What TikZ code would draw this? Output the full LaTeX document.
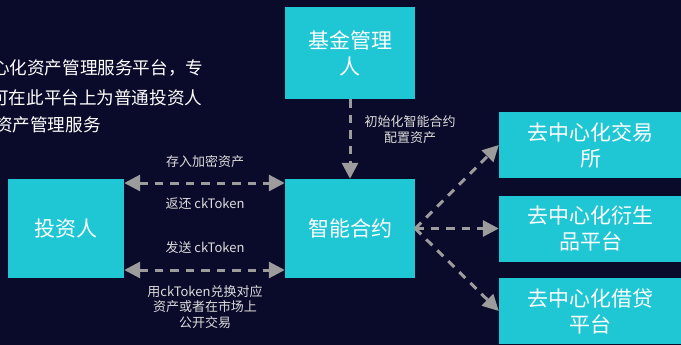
\documentclass[tikz,border=0pt]{standalone}
\usepackage{fontspec}
\setmainfont{Noto Sans CJK SC}
\usetikzlibrary{arrows.meta}
\definecolor{bgnavy}{HTML}{0A0A2A}
\definecolor{boxcyan}{HTML}{1FC6D4}
\definecolor{linegray}{HTML}{9C9C9C}
\definecolor{labelgray}{HTML}{DCDCDC}

\begin{document}
\begin{tikzpicture}[x=1pt, y=-1pt,
    box/.style={rectangle, fill=boxcyan, text=white, align=center, inner sep=0pt,
      font=\fontsize{21}{26}\selectfont},
    flow/.style={draw=linegray, line width=3pt, dash pattern=on 8.5pt off 7pt,
      -{Triangle[length=16pt,width=16pt]}},
    lbl/.style={text=labelgray, align=center, inner sep=0pt,
      font=\fontsize{13}{15.5}\selectfont},
    intro/.style={text=white, anchor=west, inner sep=0pt,
      font=\fontsize{17.6}{20}\selectfont}]
        % Background
        \fill[bgnavy] (0,0) rectangle (681,345);
        \useasboundingbox (0,0) rectangle (681,345);
        \clip (0,0) rectangle (681,345);

        % Intro text, cut at the left edge
        \node[intro] (intro1) at (-8,68) {心化资产管理服务平台，专};
        \node[intro] (intro2) at (-9,98) {可在此平台上为普通投资人};
        \node[intro] (intro3) at (-5,125) {资产管理服务};

        % Boxes
        \node[box, minimum width=130, minimum height=92] (manager) at (350,53) {基金管理\\人};
        \node[box, minimum width=130, minimum height=99] (contract) at (350,228.5) {智能合约};
        \node[box, minimum width=116, minimum height=99] (investor) at (66,228.5) {投资人};
        \node[box, minimum width=183, minimum height=66] (exchange) at (590.5,145) {去中心化交易\\所};
        \node[box, minimum width=183, minimum height=66] (deriv) at (590.5,228.5) {去中心化衍生\\品平台};
        \node[box, minimum width=183, minimum height=66] (lending) at (590.5,311) {去中心化借贷\\平台};

        % Connectors
        \draw[flow] (manager.south) -- (contract.north);
        \draw[flow, {Triangle[length=16pt,width=16pt]}-{Triangle[length=16pt,width=16pt]}]
            ([yshift=45.5pt]investor.east) -- ([yshift=45.5pt]contract.west);
        \draw[flow, {Triangle[length=16pt,width=16pt]}-{Triangle[length=16pt,width=16pt]}]
            ([yshift=-41.5pt]investor.east) -- ([yshift=-41.5pt]contract.west);
        \foreach \t in {exchange, deriv, lending} {
            \draw[flow] (contract.east) -- (\t.west);
        }

        % Labels
        \node[lbl] (deposit) at (205,162) {存入加密资产};
        \node[lbl] (giveback) at (205,204) {返还 ckToken};
        \node[lbl] (send) at (205,248) {发送 ckToken};
        \node[lbl] (redeem) at (205,307) {用ckToken兑换对应\\资产或者在市场上\\公开交易};
        \node[lbl] (init) at (410,129.5) {初始化智能合约\\配置资产};
\end{tikzpicture}
\end{document}
